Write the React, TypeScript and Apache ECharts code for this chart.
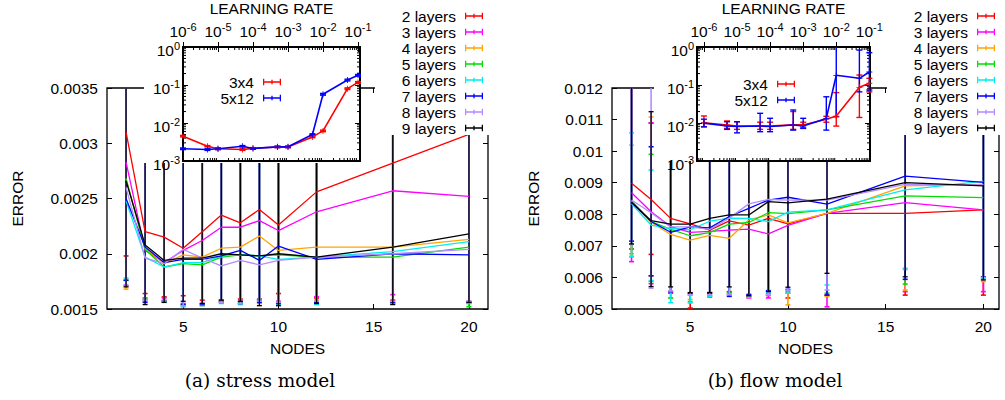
import React, { useEffect, useRef } from "react";
import * as echarts from "echarts";

// ---------------- data ----------------
const NODES = [2, 3, 4, 5, 6, 7, 8, 9, 10, 12, 16, 20];
const LAYER_NAMES = ["2 layers", "3 layers", "4 layers", "5 layers", "6 layers", "7 layers", "8 layers", "9 layers"];
const LAYER_COLORS = ["#ff0000", "#ff00ff", "#ffa500", "#00dd00", "#00eeee", "#0000ff", "#b48cff", "#000000"];

// stress model (a): mean error
const stressMean2 = [0.0031, 0.0022, 0.00215, 0.00205, 0.0022, 0.00235, 0.00228, 0.0024, 0.00226, 0.00256, 0.00282, 0.00308];
const stressMean3 = [0.00283, 0.00203, 0.00192, 0.00203, 0.00212, 0.00224, 0.00224, 0.0023, 0.00221, 0.00238, 0.00257, 0.00252];
const stressMean4 = [0.00268, 0.00205, 0.00191, 0.00199, 0.00197, 0.00205, 0.00206, 0.00216, 0.00203, 0.00206, 0.00206, 0.00213];
const stressMean5 = [0.00268, 0.00204, 0.00188, 0.00191, 0.0019, 0.00197, 0.00199, 0.00198, 0.00199, 0.00197, 0.00197, 0.00206];
const stressMean6 = [0.00248, 0.00197, 0.00188, 0.00192, 0.00192, 0.00198, 0.00199, 0.00198, 0.00195, 0.00197, 0.00202, 0.00211];
const stressMean7 = [0.0025, 0.00206, 0.00192, 0.00195, 0.00195, 0.00198, 0.00203, 0.00194, 0.00207, 0.00195, 0.002, 0.00199];
const stressMean8 = [0.0026, 0.00196, 0.00191, 0.00204, 0.00196, 0.00189, 0.00194, 0.0019, 0.00194, 0.00197, 0.002, 0.00204];
const stressMean9 = [0.00266, 0.00208, 0.00194, 0.00196, 0.00196, 0.002, 0.00199, 0.00198, 0.002, 0.00197, 0.00206, 0.00218];
// stress model: lower end of error bars
const stressLow2 = [0.00198, 0.00164, 0.00161, 0.00162, 0.00158, 0.00158, 0.00159, 0.00159, 0.00164, 0.0016, 0.00158, 0.00156];
const stressLow3 = [0.00171, 0.0016, 0.0016, 0.00155, 0.00155, 0.00157, 0.00157, 0.00158, 0.00157, 0.00161, 0.00163, 0.00157];
const stressLow4 = [0.00168, 0.00158, 0.00157, 0.00153, 0.00153, 0.00156, 0.00155, 0.00155, 0.00156, 0.00158, 0.00155, 0.00155];
const stressLow5 = [0.00176, 0.00159, 0.00158, 0.00154, 0.00154, 0.00157, 0.00156, 0.00158, 0.00155, 0.00155, 0.00155, 0.00152];
const stressLow6 = [0.00178, 0.00157, 0.00156, 0.00152, 0.00153, 0.00155, 0.00154, 0.00156, 0.00154, 0.00154, 0.00155, 0.00155];
const stressLow7 = [0.00176, 0.00156, 0.00157, 0.00154, 0.00154, 0.00156, 0.00155, 0.00156, 0.00155, 0.00156, 0.00156, 0.00156];
const stressLow8 = [0.00172, 0.00158, 0.00157, 0.00153, 0.00155, 0.00156, 0.00155, 0.00157, 0.00156, 0.00157, 0.00157, 0.00157];
const stressLow9 = [0.0017, 0.00154, 0.00156, 0.00157, 0.00155, 0.00158, 0.00157, 0.00153, 0.00153, 0.00155, 0.00154, 0.00156];
// stress model: upper end of error bars (all beyond the plotted range)
const stressHigh = [0.0045, 0.0045, 0.0045, 0.0045, 0.0045, 0.0045, 0.0045, 0.0045, 0.0045, 0.0045, 0.0045, 0.0045];

// flow model (b): mean error
const flowMean2 = [0.00898, 0.00847, 0.00787, 0.0077, 0.0075, 0.00779, 0.00766, 0.00787, 0.0077, 0.00803, 0.00803, 0.00814];
const flowMean3 = [0.00868, 0.00808, 0.00761, 0.00743, 0.00746, 0.0075, 0.00753, 0.00738, 0.00765, 0.00803, 0.00837, 0.00814];
const flowMean4 = [0.0084, 0.00775, 0.00736, 0.00718, 0.00733, 0.00724, 0.00782, 0.00798, 0.00773, 0.00803, 0.0089, 0.00895];
const flowMean5 = [0.00843, 0.00777, 0.00752, 0.00732, 0.00742, 0.00769, 0.00774, 0.00805, 0.00802, 0.00814, 0.00858, 0.00853];
const flowMean6 = [0.00833, 0.00766, 0.00755, 0.00751, 0.00778, 0.00788, 0.00787, 0.00777, 0.00807, 0.00814, 0.00877, 0.00905];
const flowMean7 = [0.00837, 0.00777, 0.00743, 0.0076, 0.00757, 0.00793, 0.00819, 0.00845, 0.00854, 0.00832, 0.00921, 0.00901];
const flowMean8 = [0.00845, 0.00805, 0.0076, 0.0076, 0.00752, 0.00788, 0.00833, 0.00847, 0.00845, 0.00845, 0.00895, 0.00893];
const flowMean9 = [0.00838, 0.0078, 0.00769, 0.00769, 0.00787, 0.00798, 0.00798, 0.0084, 0.00836, 0.00848, 0.009, 0.0089];
// flow model: lower end of error bars
const flowLow2 = [0.0069, 0.00673, 0.0055, 0.00503, 0.00552, 0.00555, 0.0054, 0.00543, 0.00535, 0.00544, 0.00544, 0.00544];
const flowLow3 = [0.0065, 0.0058, 0.00555, 0.00545, 0.00538, 0.00545, 0.00535, 0.00535, 0.0055, 0.00507, 0.00555, 0.00555];
const flowLow4 = [0.00675, 0.00605, 0.00535, 0.0053, 0.00545, 0.0055, 0.00545, 0.00545, 0.00513, 0.0054, 0.0056, 0.00587];
const flowLow5 = [0.00666, 0.00587, 0.00535, 0.00523, 0.00542, 0.00552, 0.0054, 0.00548, 0.00555, 0.0055, 0.00579, 0.00595];
const flowLow6 = [0.00666, 0.0059, 0.0052, 0.00519, 0.0054, 0.00548, 0.00548, 0.00552, 0.0055, 0.00576, 0.00629, 0.00598];
const flowLow7 = [0.00715, 0.00605, 0.00555, 0.0055, 0.0055, 0.0054, 0.00545, 0.00558, 0.00562, 0.00544, 0.00594, 0.00602];
const flowLow8 = [0.00705, 0.00566, 0.00557, 0.00545, 0.00545, 0.00545, 0.00537, 0.00545, 0.0056, 0.0056, 0.00625, 0.006];
const flowLow9 = [0.00706, 0.00571, 0.0057, 0.00552, 0.00552, 0.0057, 0.00542, 0.00555, 0.00569, 0.00613, 0.00602, 0.00592];
// flow model: upper end of error bars
const flowHigh2 = [0.0125, 0.01089, 0.01118, 0.01118, 0.0125, 0.0125, 0.0125, 0.0125, 0.0125, 0.0125, 0.0125, 0.0125];
const flowHigh3 = [0.0125, 0.01089, 0.01118, 0.01118, 0.0125, 0.0125, 0.0125, 0.0125, 0.0125, 0.0125, 0.0125, 0.0125];
const flowHigh4 = [0.01019, 0.01108, 0.01118, 0.01118, 0.0125, 0.0125, 0.0125, 0.0125, 0.0125, 0.0125, 0.0125, 0.0125];
const flowHigh5 = [0.0125, 0.0099, 0.01118, 0.01118, 0.0125, 0.0125, 0.0125, 0.0125, 0.0125, 0.0125, 0.0125, 0.0125];
const flowHigh6 = [0.01058, 0.0094, 0.01118, 0.01118, 0.0125, 0.0125, 0.0125, 0.0125, 0.0125, 0.0125, 0.0125, 0.0125];
const flowHigh7 = [0.0125, 0.01014, 0.01118, 0.01118, 0.0125, 0.0125, 0.0125, 0.0125, 0.0125, 0.0125, 0.0125, 0.0125];
const flowHigh8 = [0.0125, 0.0125, 0.01118, 0.01118, 0.0125, 0.0125, 0.0125, 0.0125, 0.0125, 0.0125, 0.0125, 0.0125];
const flowHigh9 = [0.0125, 0.01125, 0.01118, 0.01118, 0.0125, 0.0125, 0.0125, 0.0125, 0.0125, 0.0125, 0.0125, 0.0125];

// insets: error vs learning rate
const LEARNING_RATES = [1e-6, 5e-6, 1e-5, 5e-5, 1e-4, 5e-4, 1e-3, 5e-3, 1e-2, 5e-2, 1e-1];
const INSET_NAMES = ["3x4", "5x12"];
const INSET_COLORS = ["#ff0000", "#0000ff"];
const stressLr3x4 = [0.0045, 0.00245, 0.0021, 0.002, 0.00215, 0.00234, 0.00234, 0.0043, 0.0062, 0.08, 0.117];
const stressLr3x4Low = [0.0043, 0.00235, 0.002, 0.0019, 0.00205, 0.00224, 0.00224, 0.0041, 0.0059, 0.076, 0.111];
const stressLr3x4High = [0.0047, 0.00255, 0.0022, 0.0021, 0.00225, 0.00244, 0.00244, 0.0045, 0.0065, 0.084, 0.123];
const stressLr5x12 = [0.0021, 0.002, 0.0021, 0.00245, 0.00214, 0.00236, 0.00236, 0.005, 0.057, 0.135, 0.18];
const stressLr5x12Low = [0.002, 0.0019, 0.002, 0.00235, 0.00204, 0.00226, 0.00226, 0.0048, 0.054, 0.128, 0.171];
const stressLr5x12High = [0.0022, 0.0021, 0.0022, 0.00255, 0.00224, 0.00246, 0.00246, 0.0052, 0.06, 0.142, 0.189];
const flowLr3x4 = [0.0102, 0.0089, 0.0083, 0.0083, 0.0083, 0.0089, 0.0089, 0.0126, 0.0152, 0.087, 0.111];
const flowLr3x4Low = [0.008, 0.0072, 0.0068, 0.0068, 0.0068, 0.0068, 0.0075, 0.0105, 0.0083, 0.014, 0.066];
const flowLr3x4High = [0.0153, 0.0113, 0.0108, 0.0105, 0.0105, 0.02, 0.0105, 0.015, 0.063, 0.183, 0.15];
const flowLr5x12 = [0.0099, 0.0083, 0.0081, 0.0083, 0.0081, 0.0089, 0.0083, 0.0132, 0.18, 0.15, 0.22];
const flowLr5x12Low = [0.0079, 0.0068, 0.0055, 0.0059, 0.0059, 0.0065, 0.0072, 0.0065, 0.0146, 0.066, 0.074];
const flowLr5x12High = [0.0126, 0.0108, 0.0108, 0.018, 0.0133, 0.022, 0.0133, 0.049, 2, 0.83, 0.71];

// axis ticks
const NODE_TICKS = [5, 10, 15, 20];
const LR_EXPONENTS = [-6, -5, -4, -3, -2, -1];

// ---------------- layout helpers ----------------
const SANS = "'Liberation Sans', Arial, Helvetica, sans-serif";
const FS = 15.5;
const ERR_ICON = "path://M0,3.3H20V4.7H0Z M0,0.5H1.4V7.5H0Z M18.6,0.5H20V7.5H18.6Z M9.3,1.5H10.7V6.5H9.3Z";
const PLUS = "path://M0,2.15H5V2.85H0Z M2.15,0H2.85V5H2.15Z";
// white areas where the inset plots and the legends hide the main plots: [x, y, width, height]
const COVERS = [
  [144, 0, 216.5, 163],
  [375, 0, 125, 135],
  [654, 0, 216, 161],
  [887, 0, 118, 135],
];

const supRich = {
  b: { fontSize: FS, fontFamily: SANS, color: "#000", lineHeight: 20 },
  s: { fontSize: 11, fontFamily: SANS, color: "#000", lineHeight: 11, verticalAlign: "top" },
};
const supFmt = (v: number) => `{b|10}{s|${Math.round(v)}}`;

function errRender(capHalf: number, lw: number) {
  return (params: any, api: any) => {
    const cs = params.coordSys;
    const x = api.value(0);
    const lo = api.value(1);
    const hi = api.value(2);
    const a = api.coord([x, lo]);
    const b = api.coord([x, hi]);
    const top = cs.y;
    const bot = cs.y + cs.height;
    const px = a[0];
    const clampY = (y: number) => Math.max(top, Math.min(bot, y));
    const color = api.visual("color");
    const st = { stroke: color, lineWidth: lw, fill: "none" };
    const children: any[] = [
      { type: "line", shape: { x1: px, y1: clampY(b[1]), x2: px, y2: clampY(a[1]) }, style: st },
    ];
    if (a[1] >= top && a[1] <= bot)
      children.push({ type: "line", shape: { x1: px - capHalf, y1: a[1], x2: px + capHalf, y2: a[1] }, style: st });
    if (b[1] >= top && b[1] <= bot)
      children.push({ type: "line", shape: { x1: px - capHalf, y1: b[1], x2: px + capHalf, y2: b[1] }, style: st });
    return { type: "group", children };
  };
}

function minorTickRender(dir: "x" | "y", len: number) {
  return (params: any, api: any) => {
    const cs = params.coordSys;
    const v = api.value(0);
    const st = { stroke: "#000", lineWidth: 1 };
    if (dir === "x") {
      const p = api.coord([v, api.value(1)]);
      const px = p[0];
      if (px < cs.x + 0.5 || px > cs.x + cs.width - 0.5) return null;
      return {
        type: "group",
        children: [
          { type: "line", shape: { x1: px, y1: cs.y, x2: px, y2: cs.y + len }, style: st },
          { type: "line", shape: { x1: px, y1: cs.y + cs.height, x2: px, y2: cs.y + cs.height - len }, style: st },
        ],
      };
    }
    const p = api.coord([api.value(1), v]);
    const py = p[1];
    if (py < cs.y + 0.5 || py > cs.y + cs.height - 0.5) return null;
    return {
      type: "group",
      children: [
        { type: "line", shape: { x1: cs.x, y1: py, x2: cs.x + len, y2: py }, style: st },
        { type: "line", shape: { x1: cs.x + cs.width, y1: py, x2: cs.x + cs.width - len, y2: py }, style: st },
      ],
    };
  };
}

function minorPositions(fromExp: number, toExp: number) {
  const out: number[] = [];
  for (let n = fromExp; n <= toExp; n++) for (let k = 2; k <= 9; k++) out.push(n + Math.log10(k));
  return out;
}

function buildOption() {
  const stressMeans = [stressMean2, stressMean3, stressMean4, stressMean5, stressMean6, stressMean7, stressMean8, stressMean9];
  const stressLows = [stressLow2, stressLow3, stressLow4, stressLow5, stressLow6, stressLow7, stressLow8, stressLow9];
  const flowMeans = [flowMean2, flowMean3, flowMean4, flowMean5, flowMean6, flowMean7, flowMean8, flowMean9];
  const flowLows = [flowLow2, flowLow3, flowLow4, flowLow5, flowLow6, flowLow7, flowLow8, flowLow9];
  const flowHighs = [flowHigh2, flowHigh3, flowHigh4, flowHigh5, flowHigh6, flowHigh7, flowHigh8, flowHigh9];

  const series: any[] = [];
  // main plots
  LAYER_NAMES.forEach((name, i) => {
    const color = LAYER_COLORS[i];
    series.push({
      type: "line", name, xAxisIndex: 0, yAxisIndex: 0, symbol: "none", color,
      lineStyle: { width: 1.3, color }, z: 2,
      data: NODES.map((n, j) => [n, stressMeans[i][j]]),
    });
    series.push({
      type: "custom", xAxisIndex: 0, yAxisIndex: 0, itemStyle: { color }, z: 2,
      renderItem: errRender(2.5, i === 7 ? 1.3 : 1.6),
      encode: { x: 0, y: [1, 2] },
      data: NODES.map((n, j) => [n, stressLows[i][j], stressHigh[j]]),
    });
  });
  LAYER_NAMES.forEach((name, i) => {
    const color = LAYER_COLORS[i];
    series.push({
      type: "line", name, xAxisIndex: 2, yAxisIndex: 2, symbol: "none", color,
      lineStyle: { width: 1.3, color }, z: 2,
      data: NODES.map((n, j) => [n, flowMeans[i][j]]),
    });
    series.push({
      type: "custom", xAxisIndex: 2, yAxisIndex: 2, itemStyle: { color }, z: 2,
      renderItem: errRender(2.5, i === 7 ? 1.3 : 1.6),
      encode: { x: 0, y: [1, 2] },
      data: NODES.map((n, j) => [n, flowLows[i][j], flowHighs[i][j]]),
    });
  });

  // white covers under the insets and legends
  series.push({
    type: "custom", coordinateSystem: "none", z: 3, silent: true,
    data: COVERS.map((_, i) => [i]),
    renderItem: (params: any) => {
      const c = COVERS[params.dataIndex];
      return { type: "rect", shape: { x: c[0], y: c[1], width: c[2], height: c[3] }, style: { fill: "#fff", stroke: null } };
    },
  });

  // insets
  const insetSets = [
    { ax: 4, vals: [stressLr3x4, stressLr5x12], lows: [stressLr3x4Low, stressLr5x12Low], highs: [stressLr3x4High, stressLr5x12High] },
    { ax: 6, vals: [flowLr3x4, flowLr5x12], lows: [flowLr3x4Low, flowLr5x12Low], highs: [flowLr3x4High, flowLr5x12High] },
  ];
  insetSets.forEach((set) => {
    INSET_NAMES.forEach((name, i) => {
      const color = INSET_COLORS[i];
      series.push({
        type: "line", name, xAxisIndex: set.ax, yAxisIndex: set.ax, color,
        symbol: PLUS, symbolSize: 6, showSymbol: true,
        itemStyle: { color }, lineStyle: { width: 1.6, color }, z: 7,
        data: LEARNING_RATES.map((lr, j) => [Math.log10(lr), Math.log10(set.vals[i][j])]),
      });
      series.push({
        type: "custom", xAxisIndex: set.ax, yAxisIndex: set.ax, itemStyle: { color }, z: 7,
        renderItem: errRender(3, 1.4),
        encode: { x: 0, y: [1, 2] },
        data: LEARNING_RATES.map((lr, j) => [Math.log10(lr), Math.log10(set.lows[i][j]), Math.log10(set.highs[i][j])]),
      });
    });
    series.push({
      type: "custom", xAxisIndex: set.ax, yAxisIndex: set.ax, z: 6, silent: true,
      renderItem: minorTickRender("x", 3),
      data: minorPositions(-7, -1).map((v) => [v, -3]),
    });
    series.push({
      type: "custom", xAxisIndex: set.ax, yAxisIndex: set.ax, z: 6, silent: true,
      renderItem: minorTickRender("y", 3),
      data: minorPositions(-3, -1).map((v) => [v, -6]),
    });
  });

  const tickStyle = { show: true, inside: true, length: 5, lineStyle: { color: "#000", width: 1 } };
  const labelStyle = { color: "#000", fontSize: FS, fontFamily: SANS };
  const nameStyle = { color: "#000", fontSize: FS, fontFamily: SANS };

  const mainX = (grid: number, max: number, mirror: boolean) => ({
    type: "value", gridIndex: grid, min: 1, max, position: mirror ? "top" : "bottom",
    axisLine: { show: false }, splitLine: { show: false },
    axisTick: { ...tickStyle, customValues: NODE_TICKS },
    axisLabel: mirror ? { show: false } : { ...labelStyle, margin: 9, customValues: NODE_TICKS },
    name: mirror ? "" : "NODES", nameLocation: "middle", nameGap: 31, nameTextStyle: nameStyle,
  });
  const mainY = (grid: number, min: number, max: number, interval: number, mirror: boolean, gap: number) => ({
    type: "value", gridIndex: grid, min, max, interval, position: mirror ? "right" : "left",
    axisLine: { show: false }, splitLine: { show: false },
    axisTick: tickStyle,
    axisLabel: mirror ? { show: false } : { ...labelStyle, margin: 9 },
    name: mirror ? "" : "ERROR", nameLocation: "middle", nameGap: gap, nameTextStyle: nameStyle,
  });
  const insetX = (grid: number, min: number, max: number, mirror: boolean) => ({
    type: "value", gridIndex: grid, min, max, position: mirror ? "bottom" : "top", z: 6,
    axisLine: { show: false }, splitLine: { show: false },
    axisTick: { ...tickStyle, customValues: LR_EXPONENTS },
    axisLabel: mirror ? { show: false } : { margin: 6, customValues: LR_EXPONENTS, formatter: supFmt, rich: supRich },
    name: mirror ? "" : "LEARNING RATE", nameLocation: "middle", nameGap: 31, nameTextStyle: nameStyle,
  });
  const insetY = (grid: number, mirror: boolean) => ({
    type: "value", gridIndex: grid, min: -3, max: 0, interval: 1, position: mirror ? "right" : "left", z: 6,
    axisLine: { show: false }, splitLine: { show: false },
    axisTick: tickStyle,
    axisLabel: mirror ? { show: false } : { margin: 3, padding: [6, 0, 0, 0], formatter: supFmt, rich: supRich },
  });

  const legendBase = {
    orient: "vertical", align: "right", itemWidth: 18, itemHeight: 7, itemGap: 0, padding: 0,
    selectedMode: false, z: 8,
    textStyle: { color: "#000", fontSize: FS, fontFamily: SANS, lineHeight: 15.8, padding: [0, 4, 0, 0] },
  };

  const caption = (x: number, text: string) => ({
    type: "text", z: 3, x, y: 380, silent: true,
    style: {
      text, fill: "#000", font: "18.5px 'DejaVu Serif', serif",
      textAlign: "center", textVerticalAlign: "middle", align: "center", verticalAlign: "middle",
    },
  });

  return {
    animation: false,
    backgroundColor: "#fff",
    grid: [
      { left: 107, top: 88, width: 381, height: 221, show: true, borderColor: "#000", borderWidth: 1.3, backgroundColor: "transparent", outerBoundsMode: "none" },
      { left: 612, top: 88, width: 387, height: 221, show: true, borderColor: "#000", borderWidth: 1.3, backgroundColor: "transparent", outerBoundsMode: "none" },
      { left: 183, top: 47, width: 177, height: 114, show: true, borderColor: "#000", borderWidth: 2, backgroundColor: "transparent", z: 6, outerBoundsMode: "none" },
      { left: 697, top: 47, width: 173, height: 114, show: true, borderColor: "#000", borderWidth: 2, backgroundColor: "transparent", z: 6, outerBoundsMode: "none" },
    ],
    xAxis: [
      mainX(0, 21, false), mainX(0, 21, true),
      mainX(1, 20.8, false), mainX(1, 20.8, true),
      insetX(2, -6, -0.943, false), insetX(2, -6, -0.943, true),
      insetX(3, -6.21, -0.98, false), insetX(3, -6.21, -0.98, true),
    ],
    yAxis: [
      mainY(0, 0.0015, 0.0035, 0.0005, false, 82), mainY(0, 0.0015, 0.0035, 0.0005, true, 0),
      mainY(1, 0.005, 0.012, 0.001, false, 71), mainY(1, 0.005, 0.012, 0.001, true, 0),
      insetY(2, false), insetY(2, true),
      insetY(3, false), insetY(3, true),
    ],
    legend: [
      { ...legendBase, right: 522, top: 8, data: LAYER_NAMES.map((name) => ({ name, icon: ERR_ICON })) },
      { ...legendBase, right: 10, top: 8, data: LAYER_NAMES.map((name) => ({ name, icon: ERR_ICON })) },
      { ...legendBase, right: 724, top: 74, data: INSET_NAMES.map((name) => ({ name, icon: ERR_ICON })) },
      { ...legendBase, right: 210, top: 76, data: INSET_NAMES.map((name) => ({ name, icon: ERR_ICON })) },
    ],
    graphic: {
      elements: [caption(260, "(a) stress model"), caption(775, "(b) flow model")],
    },
    series,
  };
}

export default function App() {
  const ref = useRef<HTMLDivElement>(null);
  useEffect(() => {
    const chart = echarts.init(ref.current!, null, { renderer: "svg" });
    chart.setOption(buildOption() as any);
    return () => chart.dispose();
  }, []);
  return <div ref={ref} style={{ position: "absolute", left: 0, top: 0, width: 1005, height: 400 }} />;
}
